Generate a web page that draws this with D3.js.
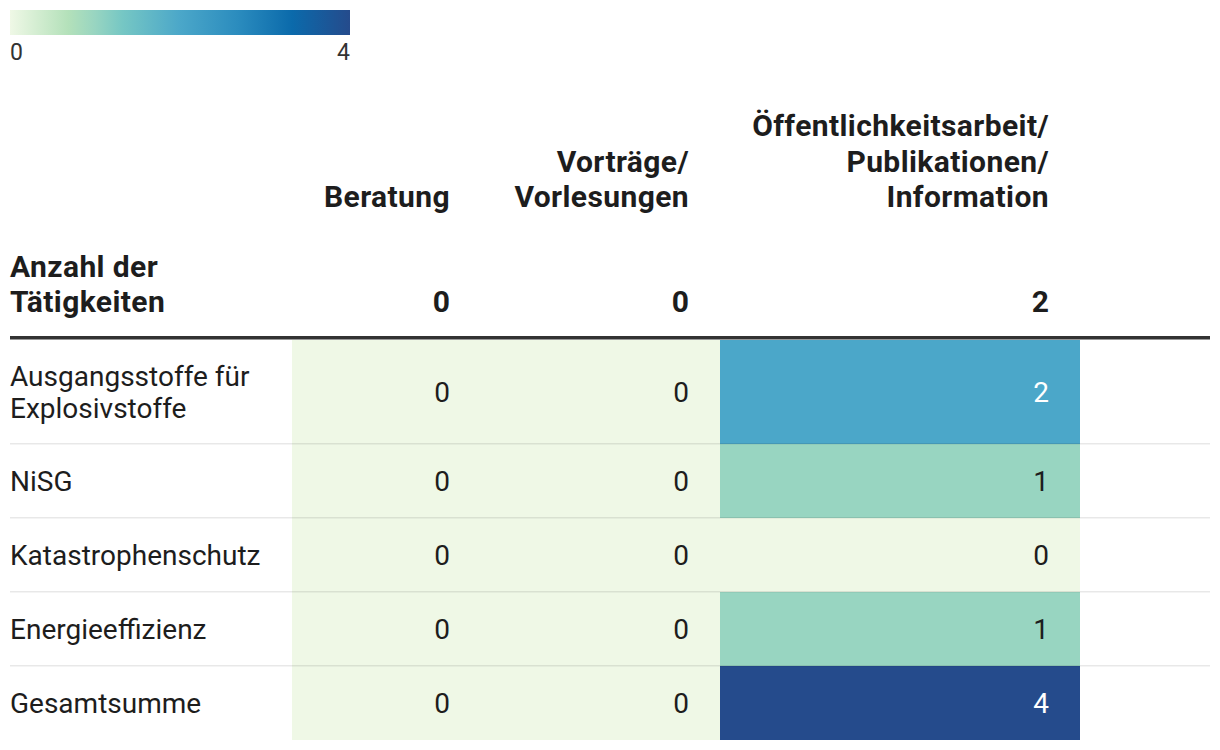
<!DOCTYPE html>
<html><head><meta charset="utf-8">
<script src="https://cdn.jsdelivr.net/npm/d3@7"></script>
<style>
html,body{margin:0;padding:0;background:#fff;}
svg{display:block;font-family:Roboto,sans-serif;}
</style></head>
<body><svg id="c" width="1220" height="750"></svg>
<script>
const columns = ["Beratung", "Vorträge/\nVorlesungen", "Öffentlichkeitsarbeit/\nPublikationen/\nInformation"];
const totals = [0, 0, 2];
const rowLabelHeader = "Anzahl der\nTätigkeiten";
const rows = ["Ausgangsstoffe für\nExplosivstoffe", "NiSG", "Katastrophenschutz", "Energieeffizienz", "Gesamtsumme"];
const beratung = [0, 0, 0, 0, 0];
const vortraege = [0, 0, 0, 0, 0];
const oeffentlichkeit = [2, 1, 0, 1, 4];
const legendTicks = [0, 4];

const series = [beratung, vortraege, oeffentlichkeit];
const svg = d3.select("#c");

// colour scale
const stops = ["#eff8e6", "#b4e1ba", "#98d5c1", "#76c7c4", "#4ba7c9", "#2b8cbe", "#0b6aab", "#254b8c"];
const stopPos = [0, 0.17, 0.25, 0.33, 0.5, 0.67, 0.83, 1];
const colorLin = d3.scaleLinear().domain(stopPos.map(p => p * 4)).range(stops).interpolate(d3.interpolateRgb);
const color = v => colorLin(v);

// legend
const lx = d3.scaleLinear().domain([0, 4]).range([10, 350]);
const defs = svg.append("defs");
const grad = defs.append("linearGradient").attr("id", "lg");
stopPos.forEach((p, i) => grad.append("stop").attr("offset", p).attr("stop-color", stops[i]));
svg.append("rect").attr("x", lx(0)).attr("y", 10).attr("width", lx(4) - lx(0)).attr("height", 25).attr("fill", "url(#lg)");
svg.selectAll(".lt").data(legendTicks).join("text")
  .attr("x", d => lx(d)).attr("y", 60)
  .attr("text-anchor", (d, i) => i === 0 ? "start" : "end")
  .attr("font-size", 23).attr("fill", "#333").text(d => d);

// columns layout
const colEdges = [[292, 481], [481, 720], [720, 1080]];
const xCol = d3.scaleOrdinal().domain(d3.range(columns.length)).range(colEdges);
const pad = 31;

const hdrFS = 30;
const hdrLS = 0.4;
const hdrLH = 35.5;
columns.forEach((c, i) => {
  const lines = c.split("\n");
  const t = svg.append("text").attr("text-anchor", "end").attr("font-weight", 700)
    .attr("font-size", hdrFS).attr("letter-spacing", hdrLS).attr("fill", "#1d1d1d");
  lines.forEach((l, j) => {
    t.append("tspan").attr("x", xCol(i)[1] - pad).attr("y", 207 - (lines.length - 1 - j) * hdrLH).text(l);
  });
});

// totals header row
const th = svg.append("text").attr("font-weight", 700).attr("font-size", hdrFS).attr("letter-spacing", hdrLS).attr("fill", "#1d1d1d");
rowLabelHeader.split("\n").forEach((l, j, a) => th.append("tspan").attr("x", 10).attr("y", 312 - (a.length - 1 - j) * hdrLH).text(l));
svg.selectAll(".tot").data(totals).join("text")
  .attr("x", (d, i) => xCol(i)[1] - pad).attr("y", 312)
  .attr("text-anchor", "end").attr("font-weight", 700).attr("font-size", hdrFS).attr("fill", "#1d1d1d")
  .text(d => d);

// thick line
svg.append("rect").attr("x", 10).attr("y", 336).attr("width", 1200).attr("height", 3.5).attr("fill", "#333");

// rows
const rowLines = rows.map(r => r.split("\n").length);
const rowH = rowLines.map(n => n === 1 ? 74 : 104);
let acc = 340;
const rowTops = rowH.map(h => { const t = acc; acc += h; return t; });
const yRow = d3.scaleOrdinal().domain(d3.range(rows.length)).range(rowTops);

const cells = [];
rows.forEach((r, ri) => series.forEach((s, ci) => cells.push({ ri, ci, v: s[ri] })));

svg.selectAll(".cell").data(cells).join("rect")
  .attr("x", d => xCol(d.ci)[0]).attr("y", d => yRow(d.ri))
  .attr("width", d => xCol(d.ci)[1] - xCol(d.ci)[0]).attr("height", d => rowH[d.ri])
  .attr("fill", d => color(d.v));

// separators
svg.selectAll(".sep").data(d3.range(1, rows.length)).join("rect")
  .attr("x", 10).attr("y", d => yRow(d) - 1).attr("width", 1200).attr("height", 1.5)
  .attr("fill", "#000").attr("opacity", 0.09);

const bodyFS = 28;
svg.selectAll(".cv").data(cells).join("text")
  .attr("x", d => xCol(d.ci)[1] - pad).attr("y", d => yRow(d.ri) + rowH[d.ri] / 2 + 10)
  .attr("text-anchor", "end").attr("font-size", bodyFS)
  .attr("fill", d => d.v >= 2 ? "#fff" : "#1d1d1d").text(d => d.v);

rows.forEach((r, ri) => {
  const lines = r.split("\n");
  const t = svg.append("text").attr("font-size", bodyFS).attr("fill", "#1d1d1d");
  const mid = yRow(ri) + rowH[ri] / 2;
  lines.forEach((l, j) => t.append("tspan").attr("x", 10)
    .attr("y", mid + 10 + (j - (lines.length - 1) / 2) * 31.5).text(l));
});
</script></body></html>
